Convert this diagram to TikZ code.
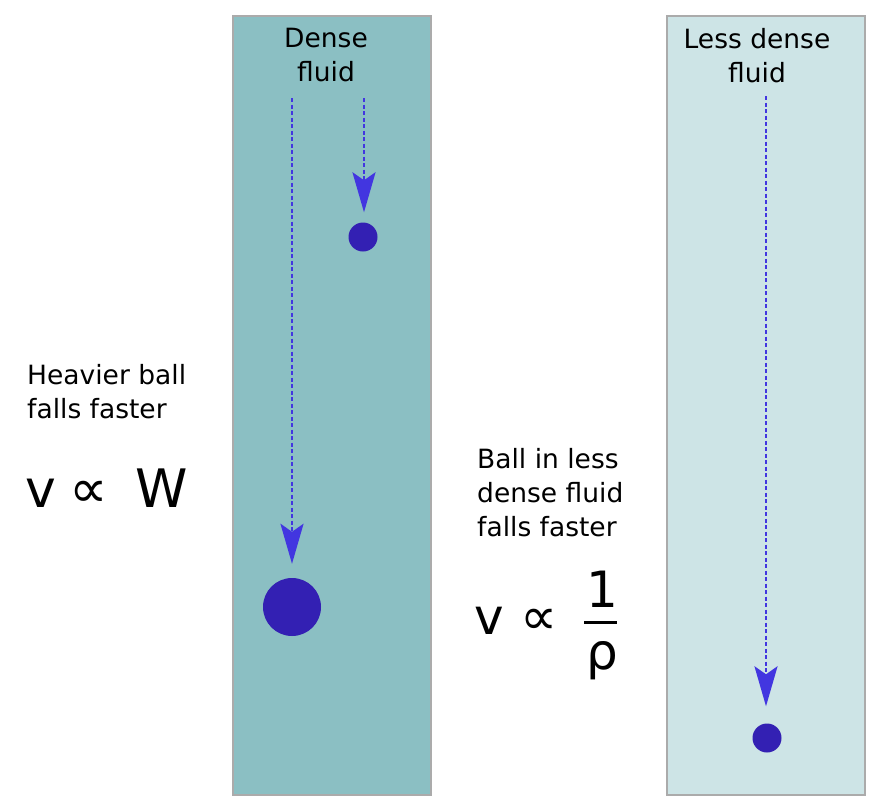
\documentclass[tikz,border=0pt]{standalone}
\usepackage{fontspec}
\setmainfont{DejaVu Sans}
\usetikzlibrary{arrows.meta}
\definecolor{densefill}{HTML}{8BBFC3}
\definecolor{lightfill}{HTML}{CDE4E6}
\definecolor{tubeedge}{HTML}{ABABAB}
\definecolor{ballcol}{HTML}{3320B3}
\definecolor{arrowcol}{HTML}{4236E0}
\begin{document}
\begin{tikzpicture}[x=1pt,y=-1pt,
  tube/.style={draw=tubeedge,line width=1.5pt},
  ball/.style={circle,fill=ballcol,inner sep=0pt,draw=none},
  fall/.style={arrowcol,line width=2.6pt,dash pattern=on 4pt off 2.5pt,
    -{Stealth[length=40pt,width=23pt,inset=8pt]}},
  txt/.style={font=\fontsize{26.5}{34}\selectfont,align=center,anchor=base,inner sep=0pt},
  txtl/.style={font=\fontsize{26.5}{34}\selectfont,align=left,anchor=base west,inner sep=0pt},
  big/.style={font=\fontsize{#1}{#1}\selectfont,anchor=base,inner sep=0pt}
]
\useasboundingbox[fill=white] (0,0) rectangle (885,811);
% tubes
\draw[tube,fill=densefill] (233,16) rectangle (431,795);
\draw[tube,fill=lightfill] (667,16) rectangle (865,795);
% labels
\node[txt] (dense) at (326,81) {Dense\\fluid};
\node[txt] (less) at (757,82) {Less dense\\fluid};
\node[txtl] (heavy) at (27,418) {Heavier ball\\falls faster};
\node[txtl] (lessball) at (477,536) {Ball in less\\dense fluid\\falls faster};
% formula left
\node[big=52] (v1) at (41,507) {v};
\node[big=54] (p1) at (89,507) {∝};
\node[big=53] (w1) at (162,507) {W};
% formula right
\node[big=50] (v2) at (489,634) {v};
\node[big=52] (p2) at (539,634) {∝};
\node[big=50] (one) at (602,607) {1};
\node[big=50] (rho) at (602,669) {ρ};
\draw[line width=3pt] (584,622) -- (617,622);
% balls
\node[ball,minimum size=29pt] (b1) at (363,237) {};
\node[ball,minimum size=58pt] (b2) at (292,607) {};
\node[ball,minimum size=29pt] (b3) at (767,738) {};
% arrows
\coordinate (s1) at (364,98);
\coordinate (s2) at (292,98);
\coordinate (s3) at (766,96);
\draw[fall,shorten >=10pt] (s1) -- (b1.north -| s1);
\draw[fall,shorten >=14pt] (s2) -- (b2.north);
\draw[fall,shorten >=17pt] (s3) -- (b3.north -| s3);
\end{tikzpicture}
\end{document}
